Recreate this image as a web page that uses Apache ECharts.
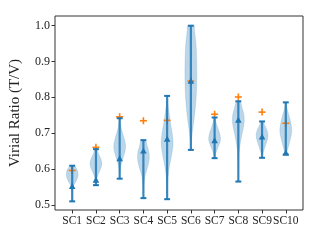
<!DOCTYPE html>
<html><head><meta charset="utf-8">
<script src="https://cdn.jsdelivr.net/npm/echarts@6/dist/echarts.min.js"></script>
<style>html,body{margin:0;padding:0;background:#fff}#c{width:320px;height:240px}</style>
</head><body><div id="c"></div>
<script>
const categories = ['SC1','SC2','SC3','SC4','SC5','SC6','SC7','SC8','SC9','SC10'];
const maxVals  = [0.610,0.656,0.742,0.681,0.804,0.999,0.744,0.789,0.733,0.786];
const minVals  = [0.511,0.556,0.574,0.520,0.517,0.654,0.631,0.566,0.632,0.641];
const meanVals = [0.553,0.570,0.630,0.651,0.684,0.845,0.680,0.737,0.690,0.646];
const refVals  = [0.597,0.661,0.746,0.735,0.736,0.845,0.753,0.801,0.759,0.728];
const yTicks = [0.5,0.6,0.7,0.8,0.9,1.0];
// width profiles [value, relative half-width]
const prof1 = [[0.511,0.02],[0.53,0.05],[0.55,0.15],[0.56,0.4],[0.57,0.75],[0.585,1.0],[0.598,0.85],[0.605,0.6],[0.610,0.35]];
const prof2 = [[0.556,0.02],[0.57,0.1],[0.585,0.35],[0.60,0.75],[0.615,1.0],[0.63,0.8],[0.645,0.4],[0.656,0.12]];
const prof3 = [[0.574,0.02],[0.59,0.05],[0.61,0.2],[0.63,0.55],[0.65,0.9],[0.665,1.0],[0.68,0.85],[0.70,0.5],[0.72,0.2],[0.742,0.05]];
const prof4 = [[0.520,0.02],[0.55,0.05],[0.58,0.25],[0.60,0.6],[0.62,0.9],[0.635,1.0],[0.65,0.9],[0.665,0.65],[0.681,0.35]];
const prof5 = [[0.517,0.02],[0.55,0.05],[0.58,0.15],[0.61,0.4],[0.64,0.75],[0.67,1.0],[0.70,0.85],[0.73,0.55],[0.76,0.3],[0.78,0.15],[0.804,0.05]];
const prof6 = [[0.654,0.02],[0.68,0.1],[0.71,0.3],[0.74,0.55],[0.78,0.8],[0.82,0.95],[0.86,1.0],[0.90,0.98],[0.94,0.9],[0.97,0.72],[0.99,0.6],[0.999,0.55]];
const prof7 = [[0.631,0.02],[0.645,0.2],[0.66,0.55],[0.675,0.9],[0.685,1.0],[0.70,0.85],[0.715,0.55],[0.73,0.25],[0.744,0.08]];
const prof8 = [[0.566,0.02],[0.60,0.04],[0.64,0.1],[0.67,0.3],[0.70,0.65],[0.725,0.95],[0.74,1.0],[0.755,0.9],[0.77,0.65],[0.789,0.3]];
const prof9 = [[0.632,0.02],[0.645,0.15],[0.66,0.45],[0.68,0.85],[0.695,1.0],[0.71,0.8],[0.722,0.45],[0.733,0.15]];
const prof10 = [[0.641,0.05],[0.655,0.3],[0.67,0.55],[0.69,0.85],[0.705,1.0],[0.72,0.95],[0.74,0.7],[0.76,0.35],[0.775,0.15],[0.786,0.05]];
const profiles = [prof1,prof2,prof3,prof4,prof5,prof6,prof7,prof8,prof9,prof10];

const positions = categories.map((c,i)=>i+1);
const font = '"Liberation Serif", "DejaVu Serif", serif';
const C0 = '#1f77b4', C1 = '#ff7f0e';

function renderViolin(params, api) {
  const i = api.value(1);
  const x = api.value(0);
  const unit = api.size([1, 0])[0];
  const hw = 0.25 * unit;
  const prof = profiles[i];
  const right = prof.map(p => { const c = api.coord([x, p[0]]); return [c[0] + p[1]*hw, c[1]]; });
  const left = prof.slice().reverse().map(p => { const c = api.coord([x, p[0]]); return [c[0] - p[1]*hw, c[1]]; });
  const pts = right.concat(left);
  const top = api.coord([x, maxVals[i]]);
  const bot = api.coord([x, minVals[i]]);
  const ref = api.coord([x, refVals[i]]);
  const mean = api.coord([x, meanVals[i]]);
  const cap = 0.125 * unit;
  const t = 3.3;
  return {
    type: 'group',
    children: [
      { type: 'polygon', shape: { points: pts, smooth: 0.35 }, style: { fill: 'rgba(31,119,180,0.3)', stroke: 'rgba(31,119,180,0.3)', lineWidth: 0.5 } },
      { type: 'line', shape: { x1: ref[0]-3.5, y1: ref[1], x2: ref[0]+3.5, y2: ref[1] }, style: { stroke: C1, lineWidth: 1.6 } },
      { type: 'line', shape: { x1: ref[0], y1: ref[1]-3.5, x2: ref[0], y2: ref[1]+3.5 }, style: { stroke: C1, lineWidth: 1.6 } },
      { type: 'line', shape: { x1: top[0], y1: top[1], x2: bot[0], y2: bot[1] }, style: { stroke: 'rgba(31,119,180,0.85)', lineWidth: 2.2 } },
      { type: 'line', shape: { x1: top[0]-cap, y1: top[1], x2: top[0]+cap, y2: top[1] }, style: { stroke: C0, lineWidth: 2 } },
      { type: 'line', shape: { x1: bot[0]-cap, y1: bot[1], x2: bot[0]+cap, y2: bot[1] }, style: { stroke: C0, lineWidth: 2 } },
      { type: 'polygon', shape: { points: [[mean[0], mean[1]-t], [mean[0]+t, mean[1]+t*0.8], [mean[0]-t, mean[1]+t*0.8]] }, style: { fill: C0 } }
    ]
  };
}

const chart = echarts.init(document.getElementById('c'), null, { renderer: 'canvas' });
chart.setOption({
  animation: false,
  grid: { left: 52, right: 17, top: 16, bottom: 30, show: true, borderColor: '#333', borderWidth: 1, backgroundColor: 'transparent' },
  xAxis: {
    type: 'value', min: 0.275, max: 10.725,
    splitLine: { show: false },
    axisLine: { show: false },
    axisTick: { show: true, length: 3.5, lineStyle: { color: '#333' }, customValues: positions },
    axisLabel: { customValues: positions, formatter: v => categories[Math.round(v)-1] || '', fontFamily: font, fontSize: 11.5, color: '#222', margin: 5 }
  },
  yAxis: {
    type: 'value', min: 0.487, max: 1.026,
    name: 'Virial Ratio (T/V)', nameLocation: 'middle', nameGap: 32,
    nameTextStyle: { fontFamily: font, fontSize: 15, color: '#222' },
    splitLine: { show: false },
    axisLine: { show: false },
    axisTick: { show: true, length: 3.5, lineStyle: { color: '#333' }, customValues: yTicks },
    axisLabel: { customValues: yTicks, formatter: v => v.toFixed(1), fontFamily: font, fontSize: 12, color: '#222', margin: 5 }
  },
  series: [{
    type: 'custom',
    renderItem: renderViolin,
    data: positions.map((p, i) => [p, i]),
    encode: { x: 0, y: -1 },
    clip: false
  }]
});
</script></body></html>
